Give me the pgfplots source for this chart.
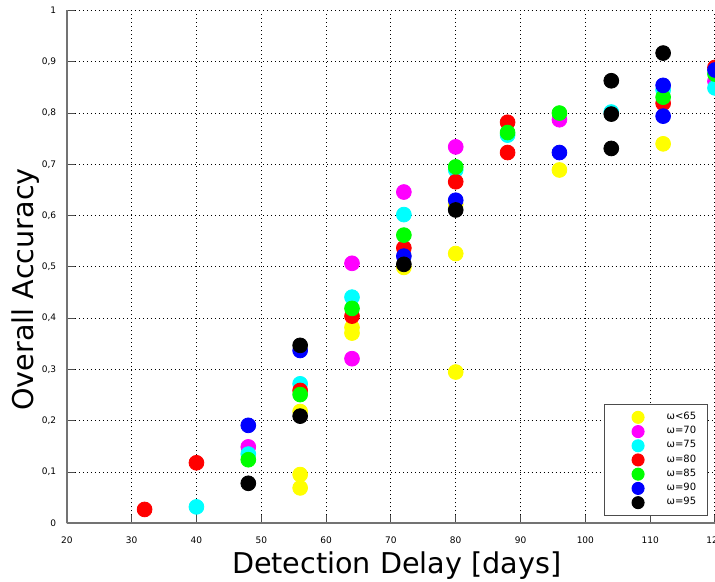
\documentclass[border=0pt]{standalone}
\usepackage{pgfplots}
\pgfplotsset{compat=1.18}
\usepackage{fontspec}
\setmainfont{DejaVu Sans}
\usetikzlibrary{calc}
\definecolor{cY}{rgb}{1,1,0}
\definecolor{cM}{rgb}{1,0,1}
\definecolor{cC}{rgb}{0,1,1}
\definecolor{cR}{rgb}{1,0,0}
\definecolor{cG}{rgb}{0,1,0}
\definecolor{cB}{rgb}{0,0,1}

\begin{document}
\begin{tikzpicture}
\begin{axis}[
    scale only axis,
    width=323.6pt, height=256pt,
    xmin=20, xmax=120, ymin=0, ymax=1,
    xtick={20,30,...,120},
    ytick={0,0.1,...,1.0},
    axis x line*=bottom, axis y line*=left,
    axis line style={black!55, line width=0.9pt, -},
    tick align=inside,
    major tick length=4pt,
    tick style={black!70, line width=0.5pt},
    grid=major,
    grid style={black, line width=0.5pt, dash pattern=on 0.5pt off 1.5pt},
    /pgf/number format/assume math mode=true,
    /pgf/number format/use comma,
    ticklabel style={font=\fontsize{4.5}{5}\selectfont},
    yticklabel style={xshift=-1.8pt},
    xticklabel style={yshift=-3.2pt},
    xlabel={Detection Delay [days]},
    ylabel={Overall Accuracy},
    label style={font=\fontsize{14.3}{16}\selectfont},
    xlabel style={at={(axis description cs:0.509,-0.0982)}, anchor=base},
    ylabel style={at={(axis description cs:-0.0516,0.456)}, anchor=base},
    legend style={at={(axis description cs:0.989,0.015)}, anchor=south east,
        draw=black!70, line width=0.5pt, fill=white,
        font=\fontsize{5}{6}\selectfont, inner sep=3pt, row sep=0.7pt,
        nodes={inner sep=0.6pt}},
    legend cell align=left,
    legend image code/.code={\path (0pt,0pt) (26.8pt,0pt);
        \draw[mark repeat=2,mark phase=2,#1,mark size=3pt]
        plot coordinates {(0pt,0pt)(13.4pt,0pt)(26.8pt,0pt)};},
    every axis plot/.append style={only marks, mark=*, mark size=3.7pt},
]
\addplot[color=cY] coordinates {
 (56,0.218) (56,0.095) (56,0.069) (64,0.382) (64,0.371) (72,0.499)
 (80,0.622) (80,0.526) (80,0.295) (96,0.689) (112,0.740)
};
\addlegendentry{ω<65\kern2pt}
\addplot[color=cM] coordinates {
 (48,0.149) (64,0.507) (64,0.321) (72,0.646) (80,0.734) (96,0.787) (120,0.862)
};
\addlegendentry{ω=70\kern2pt}
\addplot[color=cC] coordinates {
 (40,0.032) (48,0.135) (56,0.272) (64,0.441) (72,0.602) (80,0.689)
 (88,0.757) (104,0.802) (112,0.845) (120,0.849)
};
\addlegendentry{ω=75\kern2pt}
\addplot[color=cR] coordinates {
 (32,0.027) (40,0.118) (56,0.259) (64,0.404) (72,0.537) (80,0.666)
 (88,0.782) (88,0.723) (112,0.819) (120,0.889)
};
\addlegendentry{ω=80\kern2pt}
\addplot[color=cG] coordinates {
 (48,0.124) (56,0.251) (64,0.419) (72,0.562) (80,0.695) (88,0.762)
 (96,0.800) (112,0.831) (120,0.876)
};
\addlegendentry{ω=85\kern2pt}
\addplot[color=cB] coordinates {
 (48,0.191) (56,0.337) (72,0.521) (80,0.630) (96,0.723) (112,0.854)
 (112,0.794) (120,0.884)
};
\addlegendentry{ω=90\kern2pt}
\addplot[color=black] coordinates {
 (48,0.078) (56,0.347) (56,0.209) (72,0.505) (80,0.611) (104,0.863)
 (104,0.798) (104,0.731) (112,0.917)
};
\addlegendentry{ω=95\kern2pt}
\end{axis}
\pgfresetboundingbox
\path[use as bounding box] ($(current axis.south west)+(-33.35pt,-29.15pt)$)
    rectangle ($(current axis.north east)+(0pt,5.25pt)$);
\end{tikzpicture}
\end{document}
